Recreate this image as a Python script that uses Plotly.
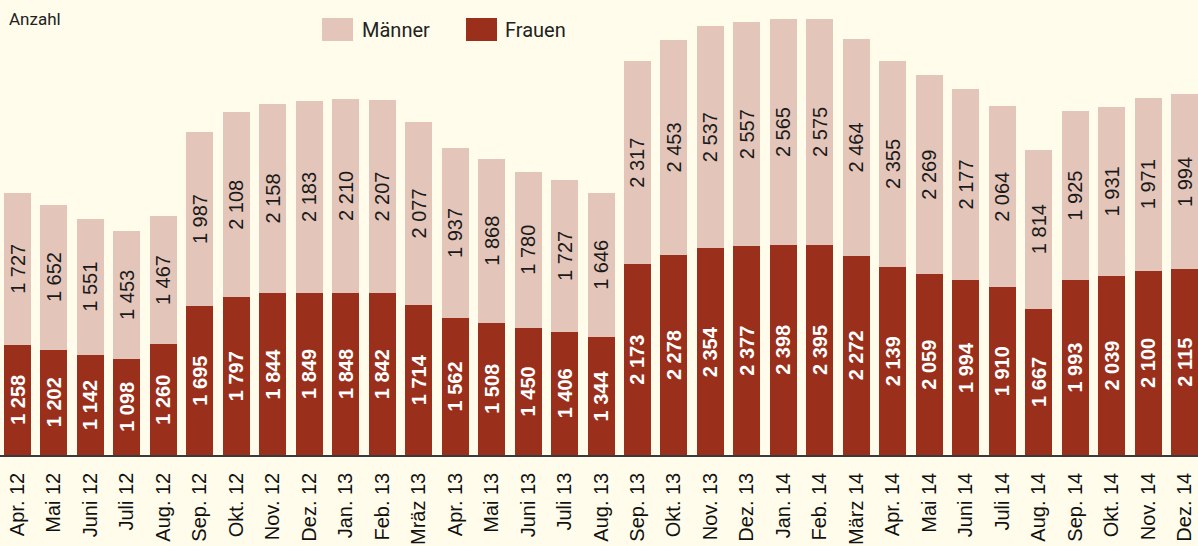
import plotly.graph_objects as go

months = ["Apr. 12", "Mai 12", "Juni 12", "Juli 12", "Aug. 12", "Sep. 12", "Okt. 12",
          "Nov. 12", "Dez. 12", "Jan. 13", "Feb. 13", "Mräz 13", "Apr. 13", "Mai 13",
          "Juni 13", "Juli 13", "Aug. 13", "Sep. 13", "Okt. 13", "Nov. 13", "Dez. 13",
          "Jan. 14", "Feb. 14", "März 14", "Apr. 14", "Mai 14", "Juni 14", "Juli 14",
          "Aug. 14", "Sep. 14", "Okt. 14", "Nov. 14", "Dez. 14"]

frauen = [1258, 1202, 1142, 1098, 1260, 1695, 1797, 1844, 1849, 1848, 1842, 1714,
          1562, 1508, 1450, 1406, 1344, 2173, 2278, 2354, 2377, 2398, 2395, 2272,
          2139, 2059, 1994, 1910, 1667, 1993, 2039, 2100, 2115]

maenner = [1727, 1652, 1551, 1453, 1467, 1987, 2108, 2158, 2183, 2210, 2207, 2077,
           1937, 1868, 1780, 1727, 1646, 2317, 2453, 2537, 2557, 2565, 2575, 2464,
           2355, 2269, 2177, 2064, 1814, 1925, 1931, 1971, 1994]

BG = "#FFFCEB"
C_F = "#9A2F1B"
C_M = "#E4C5B9"


def fmt(v):
    return f"{v:,}".replace(",", " ")


fig = go.Figure()
fig.add_trace(go.Bar(
    x=months, y=frauen, name="Frauen", marker=dict(color=C_F, line=dict(width=0)),
    text=[fmt(v) for v in frauen], textposition="inside", insidetextanchor="middle",
    textangle=-90, constraintext="none",
    textfont=dict(family="Liberation Sans, Arial, sans-serif", size=20, color="white", weight="bold"),
    hoverinfo="x+y"))
fig.add_trace(go.Bar(
    x=months, y=maenner, name="Männer", marker=dict(color=C_M, line=dict(width=0)),
    text=[fmt(v) for v in maenner], textposition="inside", insidetextanchor="middle",
    textangle=-90, constraintext="none",
    textfont=dict(family="Liberation Sans, Arial, sans-serif", size=20, color="#1a1a1a"),
    hoverinfo="x+y"))

fig.update_layout(
    width=1198, height=546,
    barmode="stack", bargap=0.26,
    paper_bgcolor=BG, plot_bgcolor=BG,
    margin=dict(l=0, r=0, t=0, b=91),
    showlegend=False,
    xaxis=dict(range=[-0.48, 32.37], tickangle=-90, showline=True, linecolor="#3a3a3a",
               linewidth=1.5, ticks="outside", ticklen=8, tickcolor="rgba(0,0,0,0)",
               tickfont=dict(family="Liberation Sans, Arial, sans-serif", size=20, color="#111"),
               showgrid=False, fixedrange=True, automargin=False),
    yaxis=dict(range=[0, 5185], visible=False, fixedrange=True),
    shapes=[
        dict(type="rect", xref="paper", yref="paper", x0=322/1198, x1=353/1198,
             y0=1-41/455, y1=1-18/455, fillcolor=C_M, line=dict(width=0)),
        dict(type="rect", xref="paper", yref="paper", x0=466/1198, x1=497/1198,
             y0=1-41/455, y1=1-18/455, fillcolor=C_F, line=dict(width=0)),
    ],
    annotations=[
        dict(text="Männer", xref="paper", yref="paper", x=360/1198, y=1-30/455,
             xanchor="left", yanchor="middle", showarrow=False,
             font=dict(family="Roboto, sans-serif", size=20, color="#222")),
        dict(text="Frauen", xref="paper", yref="paper", x=503/1198, y=1-30/455,
             xanchor="left", yanchor="middle", showarrow=False,
             font=dict(family="Roboto, sans-serif", size=20, color="#222")),
        dict(text="Anzahl", xref="paper", yref="paper", x=7/1198, y=1-7/455,
             xanchor="left", yanchor="top", showarrow=False,
             font=dict(family="Roboto, sans-serif", size=17, color="#222")),
    ],
)

fig.write_html("out.html", config={"displayModeBar": False},
               post_script="document.body.style.margin='0px';document.body.style.background='" + BG + "';")
